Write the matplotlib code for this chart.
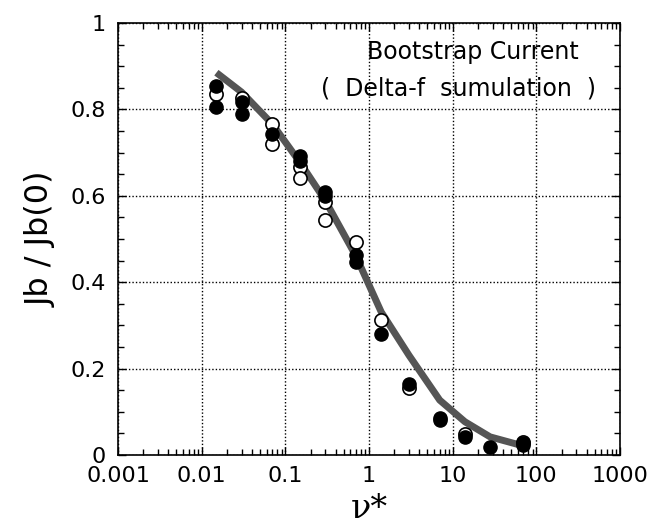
import matplotlib.pyplot as plt
from matplotlib.ticker import FixedLocator, MultipleLocator, LogLocator, NullFormatter

plt.rcParams['font.family'] = ['DejaVu Sans']

# theory curve
line_nu = [0.015, 0.03, 0.07, 0.15, 0.3, 0.7, 1.4, 3, 7, 14, 28, 70]
line_jb = [0.885, 0.84, 0.766, 0.677, 0.589, 0.46, 0.331, 0.231, 0.127, 0.077, 0.042, 0.021]

# simulation points
filled_nu = [0.015, 0.015, 0.03, 0.03, 0.07, 0.15, 0.15, 0.3, 0.3, 0.7, 0.7, 1.4, 3, 7, 7, 14, 28, 70, 70]
filled_jb = [0.855, 0.806, 0.816, 0.789, 0.743, 0.693, 0.681, 0.608, 0.600, 0.462, 0.446, 0.281, 0.165, 0.085, 0.080, 0.042, 0.018, 0.023, 0.027]
open_nu = [0.015, 0.03, 0.07, 0.07, 0.15, 0.15, 0.3, 0.3, 0.7, 1.4, 3, 14, 70]
open_jb = [0.835, 0.826, 0.766, 0.720, 0.666, 0.641, 0.585, 0.545, 0.493, 0.313, 0.155, 0.048, 0.030]

xticks = [0.001, 0.01, 0.1, 1, 10, 100, 1000]
xlabels = ['0.001', '0.01', '0.1', '1', '10', '100', '1000']
yticks = [0, 0.2, 0.4, 0.6, 0.8, 1]
ylabels = ['0', '0.2', '0.4', '0.6', '0.8', '1']

fig = plt.figure(figsize=(6.53, 5.25), dpi=100)
ax = fig.add_axes([0.1807, 0.1333, 0.7688, 0.8229])

ax.plot(line_nu, line_jb, color='#555555', lw=5, solid_capstyle='butt', zorder=2)
ax.plot(open_nu, open_jb, 'o', ms=9.5, mfc='white', mec='black', mew=1.2, zorder=3)
ax.plot(filled_nu, filled_jb, 'o', ms=9.5, mfc='black', mec='black', zorder=4)

ax.set_xscale('log')
ax.set_xlim(0.001, 1000)
ax.set_ylim(0, 1)
ax.xaxis.set_major_locator(FixedLocator(xticks))
ax.set_xticklabels(xlabels)
ax.xaxis.set_minor_locator(LogLocator(base=10, subs=range(2, 10), numticks=20))
ax.xaxis.set_minor_formatter(NullFormatter())
ax.set_yticks(yticks)
ax.set_yticklabels(ylabels)
ax.yaxis.set_minor_locator(MultipleLocator(0.05))

ax.tick_params(which='both', direction='in', top=True, right=True, labelsize=16, width=1)
ax.tick_params(which='major', length=6)
ax.tick_params(which='minor', length=4)
ax.tick_params(axis='y', pad=9)
ax.tick_params(axis='x', pad=8)
for s in ax.spines.values():
    s.set_linewidth(1.2)
ax.grid(True, which='major', color='black', linestyle=(0, (1, 1.5)), lw=1)

ax.set_ylabel('Jb / Jb(0)', fontsize=23, labelpad=10)
ax.set_xlabel('ν*', fontsize=24, family='DejaVu Serif', labelpad=5)

ax.text(0.917, 0.933, 'Bootstrap Current', transform=ax.transAxes,
        ha='right', va='center', fontsize=17)
ax.text(0.952, 0.848, '(  Delta-f  sumulation  )', transform=ax.transAxes,
        ha='right', va='center', fontsize=17)

fig.savefig('out.png', dpi=100)
